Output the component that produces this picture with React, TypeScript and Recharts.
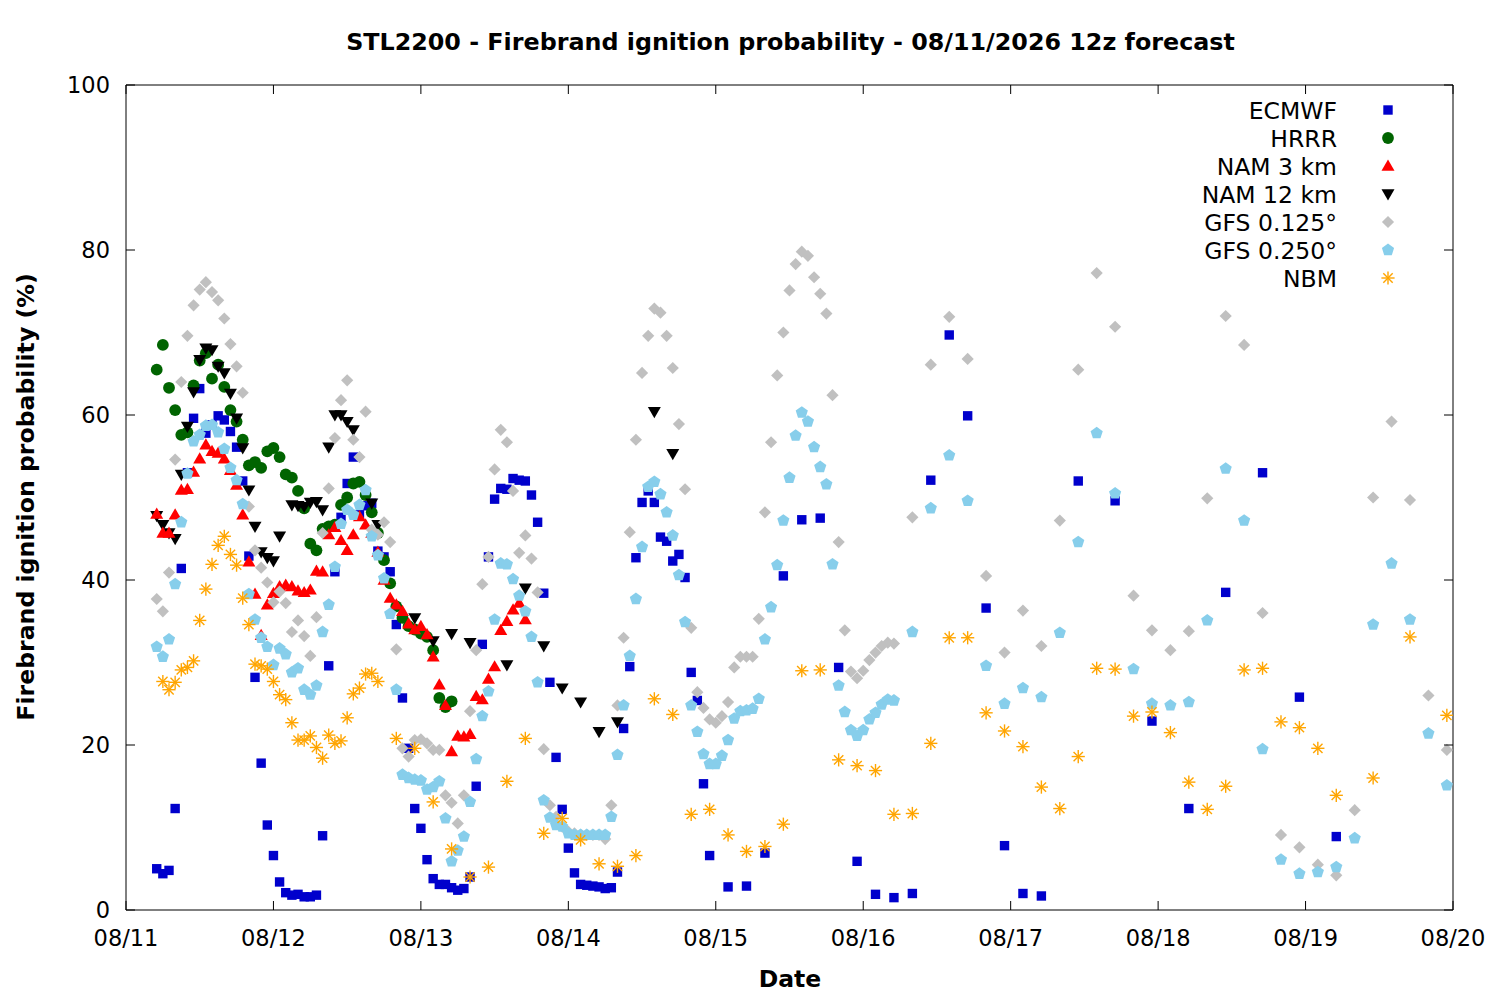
import React from 'react';
import { ScatterChart, Scatter, XAxis, YAxis, ReferenceArea, Legend } from 'recharts';

const FONT = '"DejaVu Sans", sans-serif';

// ---------- axes ----------
const xTickHours = [0, 24, 48, 72, 96, 120, 144, 168, 192, 216];
const xTickLabels = ['08/11', '08/12', '08/13', '08/14', '08/15', '08/16', '08/17', '08/18', '08/19', '08/20'];
const yTicks = [0, 20, 40, 60, 80, 100];

// valid times (hours after 08/11 00h) of each model's output
function timeSteps(start: number, end: number, step: number): number[] {
  const out: number[] = [];
  for (let t = start; t <= end; t += step) out.push(t);
  return out;
}

// ---------- ECMWF ----------
const ecmwfTimes = [...timeSteps(5, 95, 1), ...timeSteps(98, 149, 3), ...timeSteps(155, 197, 6)];
const ecmwfValues = [
  5.0, 4.4, 4.8, 12.3, 41.4, 53.0, 59.6, 63.2, 57.8, 58.8,
  59.9, 59.4, 58.0, 56.1, 52.0, 42.9, 28.2, 17.8, 10.3, 6.6,
  3.4, 2.1, 1.8, 1.9, 1.6, 1.6, 1.8, 9.0, 29.6, 41.0,
  47.6, 51.7, 54.9, 47.9, 49.0, 49.3, 43.5, 42.8, 41.0, 34.6,
  25.7, 19.6, 12.3, 9.9, 6.1, 3.8, 3.1, 3.1, 2.7, 2.4,
  2.6, 4.0, 15.0, 32.2, 42.8, 49.8, 51.1, 51.0, 52.3, 52.1,
  52.0, 50.3, 47.0, 38.4, 27.6, 18.5, 12.2, 7.5, 4.5, 3.1,
  3.0, 2.9, 2.8, 2.6, 2.7, 4.6, 22.0, 29.5, 42.7, 49.4,
  50.8, 49.4, 45.2, 44.7, 42.3, 43.1, 40.3, 28.8, 25.4, 15.3,
  6.6,
  2.8, 2.9, 6.9, 40.5, 47.3, 47.5, 29.4, 5.9, 1.9, 1.5,
  2.0, 52.1, 69.7, 59.9, 36.6, 7.8, 2.0, 1.7,
  52.0, 49.6, 22.9, 12.3, 38.5, 53.0, 25.8, 8.9,
];

// ---------- HRRR ----------
const hrrrTimes = timeSteps(5, 53, 1);
const hrrrValues = [
  65.5, 68.5, 63.3, 60.6, 57.6, 57.9, 63.6, 66.6, 67.5, 64.4,
  66.1, 63.4, 60.6, 59.2, 57.0, 53.9, 54.3, 53.6, 55.6, 56.0,
  54.9, 52.8, 52.4, 50.8, 48.7, 44.4, 43.6, 46.2, 46.5, 46.7,
  49.1, 50.0, 51.7, 51.9, 50.3, 48.2, 45.7, 42.4, 39.6, 36.8,
  35.4, 34.4, 34.0, 33.5, 33.1, 31.5, 25.7, 24.6, 25.3,
];

// ---------- NAM 3 km ----------
const nam3Times = timeSteps(5, 65, 1);
const nam3Values = [
  48.0, 45.7, 45.7, 47.9, 50.9, 51.0, 53.1, 54.7, 56.4, 55.6,
  55.4, 54.7, 53.3, 51.5, 47.9, 42.2, 38.3, 33.3, 37.0, 38.4,
  39.2, 39.4, 39.2, 38.7, 38.5, 38.8, 41.1, 41.0, 45.5, 46.4,
  44.8, 43.6, 45.5, 47.7, 46.7, 45.7, 43.4, 40.0, 37.8, 37.0,
  36.2, 34.7, 34.0, 34.4, 33.4, 30.7, 27.3, 24.8, 19.2, 21.1,
  21.0, 21.3, 25.9, 25.5, 28.0, 29.5, 33.9, 35.0, 36.4, 37.2,
  35.2,
];

// ---------- NAM 12 km ----------
const nam12Times = [
  5, 6, 7, 8, 9, 10, 11, 12, 13, 14, 15, 16, 17, 18, 19, 20, 21, 22, 23, 24, 25,
  27, 28, 29, 30, 31, 32, 33, 34, 35, 36, 37, 40, 41,
  47, 50, 53, 56, 62, 65, 68, 71, 74, 77, 80, 86, 89,
];
const nam12Values = [
  47.8, 46.7, 45.7, 45.0, 52.8, 58.6, 62.8, 66.7, 68.1, 67.9, 65.9, 65.1, 62.6, 59.6, 56.0, 50.9, 46.5, 43.4, 42.7, 42.3, 45.3,
  49.1, 49.0, 48.9, 49.4, 49.5, 48.5, 56.1, 60.0, 60.0, 59.2, 58.2, 49.3, 46.7,
  35.4, 32.6, 33.5, 32.4, 29.7, 39.0, 32.0, 26.9, 25.2, 21.6, 22.8, 60.4, 55.3,
];

// ---------- GFS 0.125 ----------
const gfs125Times = [...timeSteps(5, 125, 1), ...timeSteps(128, 215, 3)];
const gfs125Values = [
  37.7, 36.2, 40.9, 54.6, 64.0, 69.6, 73.3, 75.2, 76.1, 74.9,
  73.9, 71.7, 68.6, 65.9, 62.7, 48.9, 43.6, 41.5, 39.7, 37.3,
  38.6, 37.2, 33.7, 35.1, 33.2, 30.8, 35.5, 45.7, 51.1, 57.2,
  61.8, 64.2, 57.0, 54.9, 60.4, 46.1, 45.5, 47.0, 44.6, 31.6,
  19.6, 18.6, 20.6, 20.7, 20.2, 19.4, 19.4, 13.9, 13.0, 10.5,
  13.9, 24.1, 31.5, 39.5, 42.8, 53.4, 58.2, 56.7, 50.8, 43.3,
  45.4, 42.6, 38.5, 19.5, 12.7, 11.3, 10.1, 9.5, 9.3, 9.1,
  9.1, 9.1, 9.1, 8.6, 12.7, 24.8, 33.0, 45.8, 57.0, 65.1,
  69.6, 72.9, 72.4, 69.6, 65.7, 58.9, 51.0, 34.2, 26.4, 24.5,
  23.1, 22.7, 23.5, 25.2, 29.4, 30.7, 30.7, 30.7, 35.3, 48.2,
  56.7, 64.8, 70.0, 75.1, 78.3, 79.8, 79.3, 76.7, 74.7, 72.3,
  62.4, 44.6, 33.9, 28.9, 28.1, 29.0, 30.3, 31.2, 32.0, 32.4,
  32.3,
  47.6, 66.1, 71.9, 66.8, 40.5, 31.2, 36.3, 32.0, 47.2, 65.5,
  77.2, 70.7, 38.1, 33.9, 31.5, 33.8, 49.9, 72.0, 68.5, 36.0,
  9.1, 7.6, 5.5, 4.2, 12.1, 50.0, 59.2, 49.7, 26.0, 19.4,
];

// ---------- GFS 0.250 ----------
const gfs250Times = [...timeSteps(5, 125, 1), ...timeSteps(128, 215, 3)];
const gfs250Values = [
  31.9, 30.7, 32.8, 39.5, 47.0, 52.9, 56.8, 57.6, 58.7, 58.8,
  57.9, 55.9, 53.6, 52.1, 49.2, 38.3, 35.2, 33.0, 31.9, 29.7,
  31.7, 31.0, 28.8, 29.3, 26.7, 26.1, 27.2, 33.7, 37.0, 41.6,
  46.8, 48.5, 47.9, 49.1, 50.9, 45.3, 43.0, 40.2, 35.9, 26.7,
  16.4, 16.0, 15.8, 15.7, 14.6, 14.9, 15.6, 11.1, 5.9, 7.2,
  8.9, 13.1, 18.3, 23.5, 26.5, 35.2, 42.0, 41.9, 40.1, 38.1,
  36.2, 33.1, 27.6, 13.3, 11.2, 10.3, 10.1, 9.3, 9.1, 9.1,
  9.1, 9.1, 9.1, 9.1, 11.3, 18.8, 24.8, 30.8, 37.7, 44.0,
  51.3, 51.9, 50.4, 48.2, 45.4, 40.6, 34.9, 24.8, 21.6, 18.9,
  17.7, 17.7, 18.7, 20.6, 23.2, 24.1, 24.2, 24.4, 25.6, 32.8,
  36.7, 41.8, 47.2, 52.4, 57.5, 60.3, 59.2, 56.1, 53.7, 51.6,
  41.9, 27.2, 24.0, 21.8, 21.1, 21.8, 23.1, 23.9, 24.9, 25.5,
  25.4,
  33.7, 48.7, 55.1, 49.6, 29.6, 25.0, 26.9, 25.8, 33.6, 44.6,
  57.8, 50.5, 29.2, 25.0, 24.8, 25.2, 35.1, 53.5, 47.2, 19.5,
  6.1, 4.4, 4.6, 5.2, 8.7, 34.6, 42.0, 35.2, 21.4, 15.1,
];

// ---------- NBM ----------
const nbmTimes = [...timeSteps(6, 41, 1), ...timeSteps(44, 197, 3), ...timeSteps(203, 215, 6)];
const nbmValues = [
  27.7, 26.7, 27.6, 29.1, 29.4, 30.2, 35.1, 38.9, 41.9, 44.2,
  45.3, 43.1, 41.8, 37.8, 34.6, 29.8, 29.6, 29.2, 27.7, 26.1,
  25.5, 22.7, 20.6, 20.6, 21.1, 19.7, 18.4, 21.2, 20.2, 20.5,
  23.3, 26.2, 26.9, 28.6, 28.7, 27.7,
  20.8, 19.6, 13.1, 7.4, 4.0, 5.2, 15.6, 20.8, 9.3, 11.1,
  8.5, 5.6, 5.3, 6.6, 25.6, 23.7, 11.6, 12.2, 9.1, 7.1,
  7.7, 10.4, 29.0, 29.1, 18.2, 17.5, 16.9, 11.6, 11.7, 20.2,
  33.0, 33.0, 23.9, 21.7, 19.8, 14.9, 12.3, 18.6, 29.3, 29.2,
  23.5, 24.0, 21.5, 15.5, 12.2, 15.0, 29.1, 29.3, 22.8, 22.1,
  19.6, 13.9,
  16.0, 33.1, 23.6,
];

const toData = (times: number[], values: number[]) =>
  times.map((h, i) => ({ h, v: values[i] }));

type Kind = 'square' | 'circle' | 'up' | 'down' | 'diamond' | 'pentagon' | 'star';

const series: { name: string; kind: Kind; color: string; data: { h: number; v: number }[] }[] = [
  { name: 'ECMWF', kind: 'square', color: '#0000cc', data: toData(ecmwfTimes, ecmwfValues) },
  { name: 'HRRR', kind: 'circle', color: '#006400', data: toData(hrrrTimes, hrrrValues) },
  { name: 'NAM 12 km', kind: 'down', color: '#000000', data: toData(nam12Times, nam12Values) },
  { name: 'NAM 3 km', kind: 'up', color: '#ff0000', data: toData(nam3Times, nam3Values) },
  { name: 'GFS 0.125°', kind: 'diamond', color: '#c0c0c0', data: toData(gfs125Times, gfs125Values) },
  { name: 'GFS 0.250°', kind: 'pentagon', color: '#87ceeb', data: toData(gfs250Times, gfs250Values) },
  { name: 'NBM', kind: 'star', color: '#ffa500', data: toData(nbmTimes, nbmValues) },
];
const legendOrder = ['ECMWF', 'HRRR', 'NAM 3 km', 'NAM 12 km', 'GFS 0.125°', 'GFS 0.250°', 'NBM'];

function Marker({ kind, cx, cy, color }: { kind: Kind; cx: number; cy: number; color: string }) {
  if (cx == null || cy == null || isNaN(cx) || isNaN(cy)) return null;
  switch (kind) {
    case 'square':
      return <rect x={cx - 4.7} y={cy - 4.7} width={9.4} height={9.4} fill={color} />;
    case 'circle':
      return <circle cx={cx} cy={cy} r={5.9} fill={color} />;
    case 'up':
      return <polygon points={`${cx},${cy - 6.5} ${cx - 6.5},${cy + 4.7} ${cx + 6.5},${cy + 4.7}`} fill={color} />;
    case 'down':
      return <polygon points={`${cx},${cy + 6.5} ${cx - 6.5},${cy - 4.7} ${cx + 6.5},${cy - 4.7}`} fill={color} />;
    case 'diamond':
      return <polygon points={`${cx},${cy - 6.1} ${cx + 6.1},${cy} ${cx},${cy + 6.1} ${cx - 6.1},${cy}`} fill={color} />;
    case 'pentagon': {
      const pts = [0, 1, 2, 3, 4]
        .map((i) => {
          const a = -Math.PI / 2 + (i * 2 * Math.PI) / 5;
          return `${cx + 6.4 * Math.cos(a)},${cy + 6.4 * Math.sin(a)}`;
        })
        .join(' ');
      return <polygon points={pts} fill={color} />;
    }
    case 'star': {
      const r = 6.6;
      const d = r * 0.7071;
      return (
        <g stroke={color} strokeWidth={1.4}>
          <line x1={cx - r} y1={cy} x2={cx + r} y2={cy} />
          <line x1={cx} y1={cy - r} x2={cx} y2={cy + r} />
          <line x1={cx - d} y1={cy - d} x2={cx + d} y2={cy + d} />
          <line x1={cx - d} y1={cy + d} x2={cx + d} y2={cy - d} />
        </g>
      );
    }
  }
  return null;
}

// layout constants (svg coords of the chart)
const W = 1492;
const H = 992;
const PLOT_TOP = 77;
const PLOT_LEFT = 118;
const PLOT_RIGHT = 1445;
const PLOT_BOTTOM = 902;
const TICK_LEN = 9;

function XTick(props: any) {
  const { x, payload } = props;
  const label = xTickLabels[xTickHours.indexOf(payload.value)] ?? '';
  return (
    <g>
      <line x1={x} y1={PLOT_BOTTOM} x2={x} y2={PLOT_BOTTOM - TICK_LEN} stroke="#000" strokeWidth={1} />
      <line x1={x} y1={PLOT_TOP} x2={x} y2={PLOT_TOP + TICK_LEN} stroke="#000" strokeWidth={1} />
      <text x={x} y={PLOT_BOTTOM + 36} textAnchor="middle" fontFamily={FONT} fontSize={22.5} fill="#000">
        {label}
      </text>
    </g>
  );
}

function YTick(props: any) {
  const { y, payload } = props;
  return (
    <g>
      <line x1={PLOT_LEFT} y1={y} x2={PLOT_LEFT + TICK_LEN} y2={y} stroke="#000" strokeWidth={1} />
      <line x1={PLOT_RIGHT - TICK_LEN} y1={y} x2={PLOT_RIGHT} y2={y} stroke="#000" strokeWidth={1} />
      <text x={PLOT_LEFT - 16} y={y + 8} textAnchor="end" fontFamily={FONT} fontSize={22.5} fill="#000">
        {payload.value}
      </text>
    </g>
  );
}

function LegendBox() {
  const rows = legendOrder.map((n) => series.find((s) => s.name === n)!);
  return (
    <svg width={240} height={200} style={{ display: 'block', overflow: 'visible' }}>
      {rows.map((s, i) => {
        const cy = 15 + i * 28;
        return (
          <g key={s.name}>
            <text x={157} y={cy + 8.5} textAnchor="end" fontFamily={FONT} fontSize={23.5} fill="#000">
              {s.name}
            </text>
            <Marker kind={s.kind} cx={208} cy={cy} color={s.color} />
          </g>
        );
      })}
    </svg>
  );
}

export default function App() {
  return (
    <div style={{ position: 'relative', width: W, height: H, background: '#fff' }}>
      <ScatterChart
        width={W}
        height={H}
        margin={{ top: PLOT_TOP, right: W - PLOT_RIGHT, left: PLOT_LEFT - 60, bottom: H - PLOT_BOTTOM - 40 }}
      >
        <XAxis
          type="number"
          dataKey="h"
          domain={[0, 216]}
          ticks={xTickHours}
          interval={0}
          height={40}
          axisLine={false}
          tickLine={false}
          tickSize={0}
          tickMargin={0}
          tick={<XTick />}
          allowDataOverflow
        />
        <YAxis
          type="number"
          dataKey="v"
          domain={[0, 100]}
          ticks={yTicks}
          interval={0}
          width={60}
          axisLine={false}
          tickLine={false}
          tickSize={0}
          tickMargin={0}
          tick={<YTick />}
          allowDataOverflow
        />
        <ReferenceArea x1={0} x2={216} y1={0} y2={100} fill="none" fillOpacity={0} stroke="#000" strokeWidth={1} ifOverflow="visible" />
        {series.map((s) => (
          <Scatter
            key={s.name}
            name={s.name}
            data={s.data}
            isAnimationActive={false}
            shape={(p: any) => <Marker kind={s.kind} cx={p.cx} cy={p.cy} color={s.color} />}
          />
        ))}
        <Legend
          layout="horizontal"
          verticalAlign="middle"
          align="center"
          content={() => <LegendBox />}
          wrapperStyle={{ position: 'absolute', left: 1180 - 8, top: 95 - 8, width: 240, height: 200 }}
        />
      </ScatterChart>
      <div
        style={{
          position: 'absolute',
          left: 790.5 - 8,
          top: 43 - 8,
          transform: 'translate(-50%, -50%)',
          whiteSpace: 'nowrap',
          fontFamily: FONT,
          fontWeight: 'bold',
          fontSize: 23.8,
          lineHeight: 1,
        }}
      >
        STL2200 - Firebrand ignition probability - 08/11/2026 12z forecast
      </div>
      <div
        style={{
          position: 'absolute',
          left: 790 - 8,
          top: 980 - 8,
          transform: 'translate(-50%, -50%)',
          whiteSpace: 'nowrap',
          fontFamily: FONT,
          fontWeight: 'bold',
          fontSize: 23.5,
          lineHeight: 1,
        }}
      >
        Date
      </div>
      <div
        style={{
          position: 'absolute',
          left: 27 - 8,
          top: 497 - 8,
          transform: 'translate(-50%, -50%) rotate(-90deg)',
          whiteSpace: 'nowrap',
          fontFamily: FONT,
          fontWeight: 'bold',
          fontSize: 23.6,
          lineHeight: 1,
        }}
      >
        Firebrand ignition probability (%)
      </div>
    </div>
  );
}
